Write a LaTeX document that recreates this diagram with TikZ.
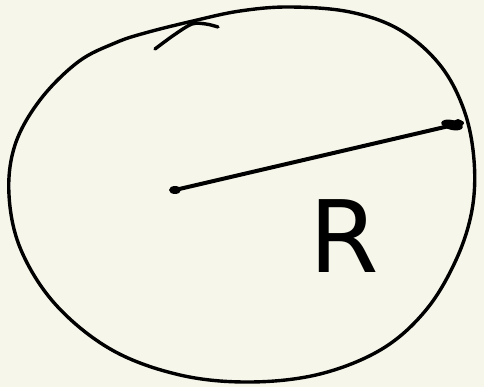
\documentclass[tikz,border=0pt]{standalone}
\usepackage{fontspec}
\setsansfont{DejaVu Sans}
\definecolor{paper}{HTML}{F7F6EB}
\begin{document}
\begin{tikzpicture}[x=1pt,y=-1pt,
  ink/.style={draw=black,line width=3.4pt,line cap=round,line join=round},
  lbl/.style={font=\sffamily\fontsize{100}{100}\selectfont,text=black,inner sep=0pt}]
\fill[paper] (0,0) rectangle (484,387);
\useasboundingbox (0,0) rectangle (484,387);
% hand-drawn circle
\draw[ink] plot[smooth cycle,tension=0.6] coordinates {
 (193,21) (240,11) (290,7) (350,12) (400,30) (440,65)
 (464,110) (474,160) (472,210) (456,260) (426,310) (382,349) (320,374)
 (250,382) (180,375) (112,350) (56,305) (21,250) (9,195) (15,145)
 (40,100) (78,62) (115,43) (145,33)};
% overlapping stroke end
\draw[ink] plot[smooth,tension=0.5] coordinates {(155,49) (174,35) (192,24) (206,24) (218,27)};
% radius
\coordinate (c) at (175,190);
\coordinate (e) at (462,123);
\draw[ink,line width=4pt] (c) -- (e);
\fill (c) ellipse[x radius=6pt,y radius=4pt];
\fill[rotate around={-13:(452,125)}] (452,125) ellipse[x radius=11pt,y radius=5pt];
\fill (458,124) circle[radius=5pt];
\node[lbl] (R) at (344,236) {R};
\end{tikzpicture}
\end{document}
